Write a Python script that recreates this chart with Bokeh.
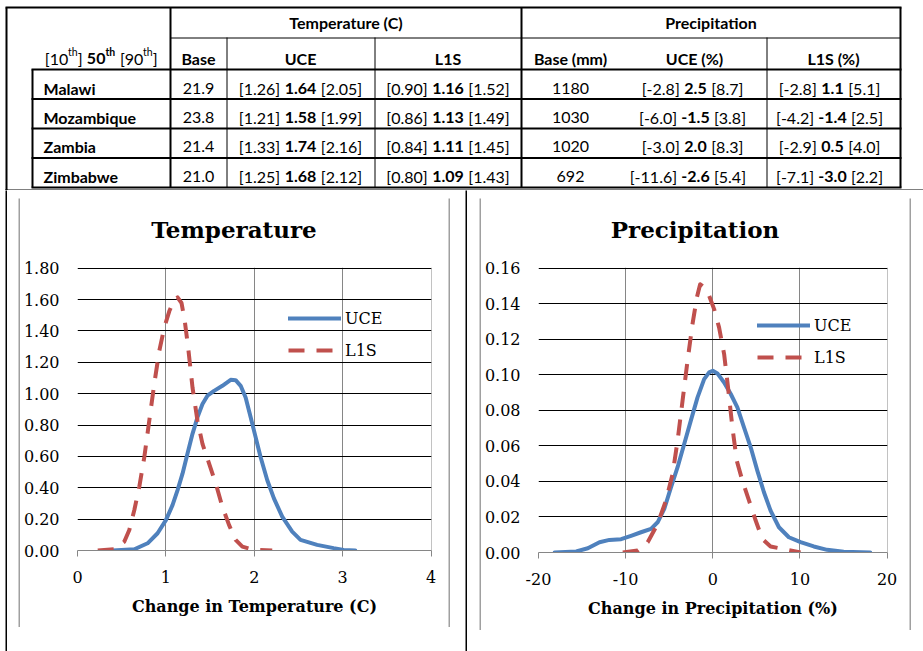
from bokeh.plotting import figure
from bokeh.layouts import column, row
from bokeh.models import (Range1d, FixedTicker, NumeralTickFormatter, Legend, LegendItem, Spacer)
from bokeh.core.properties import value
from bokeh.embed import file_html
from bokeh.resources import INLINE

# ---------------- table data ----------------
countries = ["Malawi", "Mozambique", "Zambia", "Zimbabwe"]
temp_base = [21.9, 23.8, 21.4, 21.0]
temp_uce_p10 = [1.26, 1.21, 1.33, 1.25]
temp_uce_p50 = [1.64, 1.58, 1.74, 1.68]
temp_uce_p90 = [2.05, 1.99, 2.16, 2.12]
temp_l1s_p10 = [0.90, 0.86, 0.84, 0.80]
temp_l1s_p50 = [1.16, 1.13, 1.11, 1.09]
temp_l1s_p90 = [1.52, 1.49, 1.45, 1.43]
prec_base = [1180, 1030, 1020, 692]
prec_uce_p10 = [-2.8, -6.0, -3.0, -11.6]
prec_uce_p50 = [2.5, -1.5, 2.0, -2.6]
prec_uce_p90 = [8.7, 3.8, 8.3, 5.4]
prec_l1s_p10 = [-2.8, -4.2, -2.9, -7.1]
prec_l1s_p50 = [1.1, -1.4, 0.5, -3.0]
prec_l1s_p90 = [5.1, 2.5, 4.0, 2.2]

group_headers = ["Temperature (C)", "Precipitation"]
col_headers = ["Base", "UCE", "L1S", "Base (mm)", "UCE (%)", "L1S (%)"]

# ---------------- curve data ----------------
temp_x_ticks = [0, 1, 2, 3, 4]
temp_y_ticks = [0.0, 0.2, 0.4, 0.6, 0.8, 1.0, 1.2, 1.4, 1.6, 1.8]
prec_x_ticks = [-20, -10, 0, 10, 20]
prec_y_ticks = [0.0, 0.02, 0.04, 0.06, 0.08, 0.10, 0.12, 0.14, 0.16]

temp_uce_x = [0.398, 0.643, 0.793, 0.906, 1.000, 1.075, 1.132, 1.188, 1.244, 1.301, 1.357,
              1.414, 1.470, 1.545, 1.639, 1.733, 1.789, 1.846, 1.902, 1.959, 2.015, 2.071,
              2.147, 2.222, 2.316, 2.429, 2.523, 2.711, 2.898, 3.011, 3.143]
temp_uce_y = [0.000, 0.008, 0.046, 0.110, 0.194, 0.289, 0.385, 0.490, 0.617, 0.744, 0.849,
              0.934, 0.987, 1.018, 1.050, 1.088, 1.086, 1.050, 0.976, 0.849, 0.723, 0.596,
              0.448, 0.332, 0.216, 0.120, 0.068, 0.036, 0.015, 0.004, 0.000]
temp_l1s_x = [0.229, 0.417, 0.530, 0.586, 0.643, 0.699, 0.756, 0.812, 0.868, 0.925, 0.981,
              1.038, 1.094, 1.132, 1.177, 1.214, 1.252, 1.301, 1.357, 1.414, 1.489, 1.564,
              1.639, 1.714, 1.789, 1.865, 1.996, 2.203]
temp_l1s_y = [0.000, 0.008, 0.057, 0.131, 0.258, 0.406, 0.596, 0.828, 1.061, 1.272, 1.420,
              1.525, 1.599, 1.614, 1.578, 1.462, 1.293, 1.040, 0.828, 0.680, 0.554, 0.427,
              0.279, 0.163, 0.068, 0.025, 0.004, 0.000]

prec_uce_x = [-18.15, -15.67, -14.34, -13.00, -11.86, -10.52, -9.38, -8.24, -7.09, -6.33,
              -5.57, -4.80, -4.04, -3.28, -2.52, -1.75, -0.99, -0.42, 0.00, 0.53, 1.30, 2.06,
              2.82, 3.58, 4.35, 5.11, 5.87, 6.63, 7.59, 8.73, 10.07, 11.59, 13.12, 15.02, 18.07]
prec_uce_y = [0.0000, 0.0006, 0.0024, 0.0058, 0.0071, 0.0075, 0.0094, 0.0114, 0.0133, 0.0170,
              0.0245, 0.0367, 0.0480, 0.0611, 0.0742, 0.0873, 0.0976, 0.1014, 0.1023, 0.1008,
              0.0957, 0.0892, 0.0817, 0.0704, 0.0592, 0.0461, 0.0339, 0.0236, 0.0142, 0.0086,
              0.0058, 0.0034, 0.0015, 0.0004, 0.0000]
prec_l1s_x = [-10.33, -8.62, -7.47, -6.33, -5.38, -4.61, -4.04, -3.47, -2.90, -2.33, -1.83,
              -1.45, -1.07, -0.42, 0.15, 0.72, 1.30, 1.75, 2.25, 2.75, 3.39, 4.16, 4.92, 5.68,
              6.63, 8.16, 10.07]
prec_l1s_y = [0.0000, 0.0011, 0.0058, 0.0161, 0.0292, 0.0442, 0.0630, 0.0854, 0.1079, 0.1285,
              0.1435, 0.1510, 0.1495, 0.1445, 0.1370, 0.1267, 0.1117, 0.0929, 0.0704, 0.0517,
              0.0405, 0.0292, 0.0180, 0.0077, 0.0034, 0.0019, 0.0000]

BLUE = "#4F81BD"
RED = "#C0504D"
GREY = "#A0A0A0"
SERIF = "DejaVu Serif"
SANS = "Lato"


def no_align(f):
    if hasattr(f, "frame_align"):
        f.frame_align = False
    return f


# ---------------- table figure ----------------
TW, TH = 923, 190
tab = figure(width=TW, height=TH, x_range=Range1d(0, TW), y_range=Range1d(TH, 0),
             output_backend="svg", toolbar_location=None, min_border=0,
             x_axis_location=None, y_axis_location=None)
no_align(tab)
tab.grid.visible = False
tab.outline_line_color = None
tab.background_fill_color = "white"
tab.border_fill_color = "white"

# table grid geometry (page pixels)
row_lines = [69, 98.5, 128, 157.5, 187]
thick_v = [(32, 69, 187), (170, 7, 187), (521, 7, 187), (900, 7, 187)]
thin_v = [(226.5, 37, 187), (374.5, 37, 187), (766.5, 37, 187)]
thick_h = [(5, 901, 7)] + [(31, 901, y) for y in row_lines] + [(5, 7, 190)]
thin_h = [(170, 900, 37.5), (5, 923, 189.5)]

tab.segment(x0=[v[0] for v in thick_v], y0=[v[1] for v in thick_v],
            x1=[v[0] for v in thick_v], y1=[v[2] for v in thick_v], line_width=2, line_color="black")
tab.segment(x0=[v[0] for v in thin_v], y0=[v[1] for v in thin_v],
            x1=[v[0] for v in thin_v], y1=[v[2] for v in thin_v], line_width=1, line_color="black")
tab.segment(x0=[h[0] for h in thick_h], y0=[h[2] for h in thick_h],
            x1=[h[1] for h in thick_h], y1=[h[2] for h in thick_h], line_width=2, line_color="black")
tab.segment(x0=[h[0] for h in thin_h], y0=[h[2] for h in thin_h],
            x1=[h[1] for h in thin_h], y1=[h[2] for h in thin_h], line_width=1, line_color="black")
# left outer border of the whole table (continues below)
tab.segment(x0=[6], y0=[7], x1=[6], y1=[190], line_width=2, line_color="black")

FS = 16


def tw(s, size, bold=False):
    w = 0.0
    for ch in s:
        if ch.isdigit():
            w += 0.58
        elif ch == ".":
            w += 0.24 if bold else 0.232
        elif ch == "-":
            w += 0.34
        elif ch in "[]":
            w += 0.29
        elif ch == " ":
            w += 0.193
        elif ch == "t":
            w += 0.38 if bold else 0.37
        elif ch == "h":
            w += 0.57 if bold else 0.56
        else:
            w += 0.55
    return w * size


texts = {"bold": {"left": [], "center": [], "right": []},
         "normal": {"left": [], "center": [], "right": []}}


def put(x, y, s, bold=False, align="center"):
    texts["bold" if bold else "normal"][align].append((x, y, s))


# header row 1
put(345.5, 21.5, group_headers[0], bold=True)
put(710.5, 21.5, group_headers[1], bold=True)
# header row 2
hdr_y = 57.5
hdr_cx = [198, 300, 447.5, 570, 694, 833]
for cx, h in zip(hdr_cx, col_headers):
    put(cx, hdr_y, h, bold=True)

# "[10th] 50th [90th]" with superscripts (None = word space)
SUP = 10.5
GAP = 4.5
pieces = [("[10", False, False), ("th", False, True), ("]", False, False), None,
          ("50", True, False), ("th", True, True), None,
          ("[90", False, False), ("th", False, True), ("]", False, False)]
total = sum(GAP if pc is None else tw(pc[0], SUP if pc[2] else FS, pc[1]) for pc in pieces)
x = 157 - total
sup_list = []
for pc in pieces:
    if pc is None:
        x += GAP
        continue
    s, b, sup = pc
    if sup:
        sup_list.append((x, hdr_y - 6, s, b))
        x += tw(s, SUP, b)
    else:
        put(x, hdr_y, s, bold=b, align="left")
        x += tw(s, FS, b)

row_y = [87.5, 116.5, 145.5, 176]


def triple(cx, y, lo, mid, hi):
    wb = tw(mid, FS, True)
    gap = 4.5
    put(cx - wb / 2 - gap, y, lo, align="right")
    put(cx, y, mid, bold=True)
    put(cx + wb / 2 + gap, y, hi, align="left")


for i, c in enumerate(countries):
    y = row_y[i]
    put(43, y, c, bold=True, align="left")
    put(198, y, f"{temp_base[i]:.1f}")
    triple(300, y, f"[{temp_uce_p10[i]:.2f}]", f"{temp_uce_p50[i]:.2f}", f"[{temp_uce_p90[i]:.2f}]")
    triple(447.5, y, f"[{temp_l1s_p10[i]:.2f}]", f"{temp_l1s_p50[i]:.2f}", f"[{temp_l1s_p90[i]:.2f}]")
    put(570, y, f"{prec_base[i]}")
    triple(695, y, f"[{prec_uce_p10[i]:.1f}]", f"{prec_uce_p50[i]:.1f}", f"[{prec_uce_p90[i]:.1f}]")
    triple(832, y, f"[{prec_l1s_p10[i]:.1f}]", f"{prec_l1s_p50[i]:.1f}", f"[{prec_l1s_p90[i]:.1f}]")

for style, d in texts.items():
    for align, lst in d.items():
        if not lst:
            continue
        tab.text(x=[t[0] for t in lst], y=[t[1] for t in lst], text=[t[2] for t in lst],
                 text_font=value(SANS), text_font_size=f"{FS}px", text_font_style=style,
                 text_align=align, text_baseline="middle", text_color="black")
for b in (False, True):
    lst = [t for t in sup_list if t[3] == b]
    tab.text(x=[t[0] for t in lst], y=[t[1] for t in lst], text=[t[2] for t in lst],
             text_font=value(SANS), text_font_size=f"{SUP}px",
             text_font_style="bold" if b else "normal",
             text_align="left", text_baseline="middle", text_color="black")


# ---------------- helpers for drawn rules / title strip ----------------
def bar(w, h, color):
    f = figure(width=w, height=h, min_border=0, toolbar_location=None, output_backend="svg",
               x_axis_location=None, y_axis_location=None)
    no_align(f)
    f.grid.visible = False
    f.outline_line_color = None
    f.background_fill_color = color
    f.border_fill_color = color
    return f


def title_strip(w, h, text, cx, baseline):
    f = figure(width=w, height=h, min_border=0, toolbar_location=None, output_backend="svg",
               x_axis_location=None, y_axis_location=None,
               x_range=Range1d(0, w), y_range=Range1d(h, 0))
    no_align(f)
    f.grid.visible = False
    f.outline_line_color = None
    f.background_fill_color = "white"
    f.border_fill_color = "white"
    f.text(x=[cx], y=[baseline], text=[text], text_font=value(SERIF), text_font_size="23px",
           text_font_style="bold", text_align="center", text_baseline="alphabetic",
           text_color="black")
    return f


def boxed(inner, w, h, lw=2):
    return column(bar(w + 2 * lw, lw, GREY),
                  row(bar(lw, h, GREY), inner, bar(lw, h, GREY), spacing=0),
                  bar(w + 2 * lw, lw, GREY), spacing=0)


# ---------------- chart figures ----------------
def chart(width, height, borders, xticks, yticks, xlabel, ux, uy, lx, ly, legend_loc):
    xspan = xticks[-1] - xticks[0]
    yspan = yticks[-1] - yticks[0]
    p = figure(width=width, height=height,
               x_range=Range1d(xticks[0], xticks[-1] + xspan * 0.0012),
               y_range=Range1d(yticks[0], yticks[-1] + yspan * 0.0025),
               output_backend="svg", toolbar_location=None,
               min_border_left=borders[0], min_border_right=borders[1],
               min_border_top=borders[2], min_border_bottom=borders[3])
    no_align(p)
    p.outline_line_color = None
    p.background_fill_color = "white"
    p.border_fill_color = "white"

    xa = p.xaxis[0]
    xa.ticker = FixedTicker(ticks=xticks)
    xa.formatter = NumeralTickFormatter(format="0")
    xa.axis_line_color = "#868686"
    xa.major_tick_line_color = "#868686"
    xa.major_tick_out = 6
    xa.major_tick_in = 0
    xa.minor_tick_line_color = None
    xa.major_label_standoff = 14
    xa.major_label_text_font = SERIF
    xa.major_label_text_font_size = "16px"
    xa.major_label_text_color = "black"
    xa.axis_label = xlabel
    xa.axis_label_text_font = SERIF
    xa.axis_label_text_font_size = "16px"
    xa.axis_label_text_font_style = "bold"
    xa.axis_label_text_color = "black"
    xa.axis_label_standoff = 11

    ya = p.yaxis[0]
    ya.ticker = FixedTicker(ticks=yticks)
    ya.formatter = NumeralTickFormatter(format="0.00")
    ya.axis_line_color = None
    ya.major_tick_line_color = None
    ya.major_tick_out = 0
    ya.major_tick_in = 0
    ya.minor_tick_line_color = None
    ya.major_label_standoff = 18
    ya.major_label_text_font = SERIF
    ya.major_label_text_font_size = "16px"
    ya.major_label_text_color = "black"

    p.xgrid.ticker = FixedTicker(ticks=xticks[1:])
    p.xgrid.grid_line_color = "#868686"
    p.xgrid.grid_line_width = 1
    p.ygrid.ticker = FixedTicker(ticks=yticks)
    p.ygrid.grid_line_color = "black"
    p.ygrid.grid_line_width = 1

    r1 = p.line(ux, uy, line_color=BLUE, line_width=4, line_join="round", line_cap="round")
    r2 = p.line(lx, ly, line_color=RED, line_width=4, line_dash="16 12", line_join="round")

    leg = Legend(items=[LegendItem(label="UCE", renderers=[r1]),
                        LegendItem(label="L1S", renderers=[r2])],
                 location=legend_loc, orientation="vertical",
                 glyph_width=53, glyph_height=20, label_standoff=4, spacing=12,
                 padding=0, margin=0, label_height=20,
                 label_text_font=SERIF, label_text_font_size="16px", label_text_color="black",
                 border_line_color=None, background_fill_alpha=0)
    p.add_layout(leg)
    return p


# inner chart sizes (inside a 2px grey box); a 55px title strip sits above each plot
TS = 55
pt = chart(428, 429 - TS, (56, 17, 69 - TS, 77), temp_x_ticks, temp_y_ticks,
           "Change in Temperature (C)",
           temp_uce_x, temp_uce_y, temp_l1s_x, temp_l1s_y, (211, 190))
pp = chart(428, 432 - TS, (56, 22, 69 - TS, 78), prec_x_ticks, prec_y_ticks,
           "Change in Precipitation (%)",
           prec_uce_x, prec_uce_y, prec_l1s_x, prec_l1s_y, (219, 185))

left_inner = column(title_strip(428, TS, "Temperature", 213.5, 31), pt, spacing=0)
right_inner = column(title_strip(428, TS, "Precipitation", 213.5, 31), pp, spacing=0)

BH = 461
left_block = column(Spacer(width=432, height=6), boxed(left_inner, 428, 429), spacing=0)
right_block = column(Spacer(width=432, height=6), boxed(right_inner, 428, 432), spacing=0)
bottom = row(Spacer(width=5, height=BH), bar(2, BH, "black"), Spacer(width=11, height=BH),
             left_block, Spacer(width=15, height=BH), bar(2, BH, "black"),
             Spacer(width=12, height=BH), right_block, spacing=0)

layout = column(tab, bottom, spacing=0)

open("out.html", "w").write(file_html(layout, INLINE))
